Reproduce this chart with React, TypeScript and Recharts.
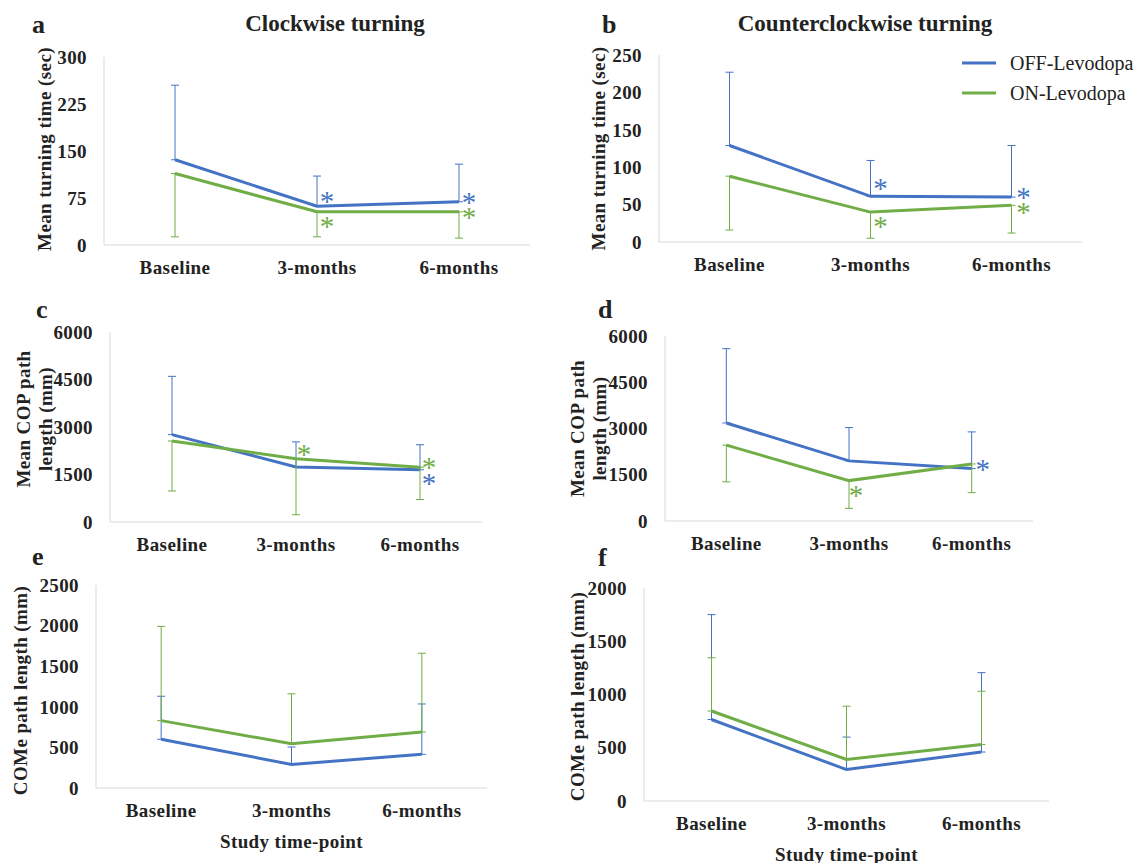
import React from 'react';
import { LineChart, Line, XAxis, YAxis, ErrorBar, LabelList, Legend } from 'recharts';

const timePoints = ['Baseline', '3-months', '6-months'];

// a - clockwise turning time (sec)
const cwTimeOff = [136, 62, 69];
const cwTimeOn = [114, 53, 53];
const cwTimeOffSd = [119, 48, 60];
const cwTimeOnSd = [101, 40, 42];
const cwTimeOffSig = [false, true, true];
const cwTimeOnSig = [false, true, true];
const cwTimeTicks = [0, 75, 150, 225, 300];

// b - counterclockwise turning time (sec)
const ccwTimeOff = [129, 61, 60];
const ccwTimeOn = [88, 40, 49];
const ccwTimeOffSd = [98, 48, 69];
const ccwTimeOnSd = [72, 35, 37];
const ccwTimeOffSig = [false, true, true];
const ccwTimeOnSig = [false, true, true];
const ccwTimeTicks = [0, 50, 100, 150, 200, 250];

// c - COP path length clockwise (mm)
const cwCopOff = [2760, 1740, 1650];
const cwCopOn = [2560, 2000, 1730];
const cwCopOffSd = [1840, 790, 790];
const cwCopOnSd = [1580, 1770, 1020];
const cwCopOffSig = [false, false, true];
const cwCopOnSig = [false, true, true];

// d - COP path length counterclockwise (mm)
const ccwCopOff = [3180, 1950, 1700];
const ccwCopOn = [2460, 1310, 1850];
const ccwCopOffSd = [2410, 1080, 1190];
const ccwCopOnSd = [1190, 900, 930];
const ccwCopOffSig = [false, false, true];
const ccwCopOnSig = [false, true, false];
const copTicks = [0, 1500, 3000, 4500, 6000];

// e - COMe path length clockwise (mm)
const cwComOff = [600, 290, 415];
const cwComOn = [830, 545, 690];
const cwComOffSd = [530, 215, 620];
const cwComOnSd = [1160, 615, 970];
const cwComTicks = [0, 500, 1000, 1500, 2000, 2500];

// f - COMe path length counterclockwise (mm)
const ccwComOff = [765, 295, 460];
const ccwComOn = [845, 390, 530];
const ccwComOffSd = [985, 305, 745];
const ccwComOnSd = [500, 500, 500];
const ccwComTicks = [0, 500, 1000, 1500, 2000];

const noSig = [false, false, false];

const BLUE = '#4472C4';
const GREEN = '#70AD47';
const AXIS = '#d9d9d9';
const INK = '#222';
const SERIF = '"Liberation Serif", "Times New Roman", serif';

function buildRows(off, on, offSd, onSd, offDir, onDir, offSig, onSig) {
  return timePoints.map((t, i) => ({
    point: t,
    off: off[i],
    on: on[i],
    offErr: offDir === 'up' ? [0, offSd[i]] : [offSd[i], 0],
    onErr: onDir === 'up' ? [0, onSd[i]] : [onSd[i], 0],
    offSig: offSig[i] ? '*' : '',
    onSig: onSig[i] ? '*' : '',
  }));
}

function starMark(color: string, dx: number[], dy: number[]) {
  return (props: any) => {
    const { x, y, value, index } = props;
    if (!value) return null;
    const i = index ?? 0;
    return (
      <text
        x={x + dx[i]}
        y={y + dy[i] + 4}
        textAnchor="middle"
        dominantBaseline="central"
        fontSize={29}
        fontFamily={SERIF}
        fill={color}
      >
        {value}
      </text>
    );
  };
}

function yTitle(lines: string[], offsetX: number, shiftY: number) {
  return (props: any) => {
    const vb = props.viewBox;
    const x0 = vb.x + offsetX;
    const cy = vb.y + vb.height / 2 + shiftY;
    return (
      <text
        x={x0}
        y={cy}
        transform={`rotate(-90, ${x0}, ${cy})`}
        textAnchor="middle"
        dominantBaseline="central"
        fontFamily={SERIF}
        fontWeight={700}
        fontSize={19}
        letterSpacing={0.4}
        fill={INK}
      >
        {lines.map((l, i) => (
          <tspan key={i} x={x0} dy={i === 0 ? -((lines.length - 1) * 22) / 2 : 22}>
            {l}
          </tspan>
        ))}
      </text>
    );
  };
}

function xTitle(text: string) {
  return (props: any) => {
    const vb = props.viewBox;
    return (
      <text
        x={vb.x + vb.width / 2}
        y={vb.y + 53}
        textAnchor="middle"
        dominantBaseline="central"
        fontFamily={SERIF}
        fontWeight={700}
        fontSize={19}
        letterSpacing={0.4}
        fill={INK}
      >
        {text}
      </text>
    );
  };
}

const legendContent = (props: any) => (
  <div style={{ fontFamily: SERIF, fontSize: 20, color: INK, whiteSpace: 'nowrap' }}>
    {(props.payload || []).map((p: any) => (
      <div key={p.value} style={{ display: 'flex', alignItems: 'center', height: 30 }}>
        <svg width={34} height={4} style={{ display: 'block' }}>
          <line x1={0} y1={2} x2={34} y2={2} stroke={p.color} strokeWidth={3} />
        </svg>
        <span style={{ marginLeft: 14, lineHeight: '20px' }}>{p.value}</span>
      </div>
    ))}
  </div>
);

const panels = [
  {
    key: 'a', col: 0, px: 104, py: 57, pw: 426, ph: 188,
    rows: buildRows(cwTimeOff, cwTimeOn, cwTimeOffSd, cwTimeOnSd, 'up', 'down', cwTimeOffSig, cwTimeOnSig),
    ticks: cwTimeTicks, yLines: ['Mean turning  time (sec)'], yLabelX: 44, yShift: -2,
    offStar: { dx: [0, 10, 10], dy: [0, -9, -4] }, onStar: { dx: [0, 10, 10], dy: [0, 10, 1] },
  },
  {
    key: 'b', col: 555, px: 659, py: 55, pw: 423, ph: 187, legend: true,
    rows: buildRows(ccwTimeOff, ccwTimeOn, ccwTimeOffSd, ccwTimeOnSd, 'up', 'down', ccwTimeOffSig, ccwTimeOnSig),
    ticks: ccwTimeTicks, yLines: ['Mean turning  time (sec)'], yLabelX: 598, yShift: 0,
    offStar: { dx: [0, 10, 12], dy: [0, -12, -4] }, onStar: { dx: [0, 10, 12], dy: [0, 10, 3] },
  },
  {
    key: 'c', col: 0, px: 110, py: 332, pw: 372, ph: 190,
    rows: buildRows(cwCopOff, cwCopOn, cwCopOffSd, cwCopOnSd, 'up', 'down', cwCopOffSig, cwCopOnSig),
    ticks: copTicks, yLines: ['Mean COP path', 'length (mm)'], yLabelX: 34, yShift: -8,
    offStar: { dx: [0, 0, 9], dy: [0, 0, 9] }, onStar: { dx: [0, 8, 9], dy: [0, -9, -4] },
  },
  {
    key: 'd', col: 555, px: 665, py: 336, pw: 368, ph: 185,
    rows: buildRows(ccwCopOff, ccwCopOn, ccwCopOffSd, ccwCopOnSd, 'up', 'down', ccwCopOffSig, ccwCopOnSig),
    ticks: copTicks, yLines: ['Mean COP path', 'length (mm)'], yLabelX: 588, yShift: 0,
    offStar: { dx: [0, 0, 11], dy: [0, 0, -4] }, onStar: { dx: [0, 7, 0], dy: [0, 10, 0] },
  },
  {
    key: 'e', col: 0, px: 96, py: 585, pw: 391, ph: 203, xLabel: 'Study time-point',
    rows: buildRows(cwComOff, cwComOn, cwComOffSd, cwComOnSd, 'up', 'up', noSig, noSig),
    ticks: cwComTicks, yLines: ['COMe path length (mm)'], yLabelX: 20, yShift: 4,
    offStar: { dx: [0, 0, 0], dy: [0, 0, 0] }, onStar: { dx: [0, 0, 0], dy: [0, 0, 0] },
  },
  {
    key: 'f', col: 555, px: 644, py: 588, pw: 405, ph: 213, xLabel: 'Study time-point',
    rows: buildRows(ccwComOff, ccwComOn, ccwComOffSd, ccwComOnSd, 'up', 'up', noSig, noSig),
    ticks: ccwComTicks, yLines: ['COMe path length (mm)'], yLabelX: 577, yShift: 2,
    offStar: { dx: [0, 0, 0], dy: [0, 0, 0] }, onStar: { dx: [0, 0, 0], dy: [0, 0, 0] },
  },
];

const tickStyle = { fontSize: 19, fontWeight: 700, fill: INK, fontFamily: SERIF, letterSpacing: 0.4 };

function Panel({ p }: { p: any }) {
  const top = p.py - 20;
  const yw = p.px - p.col;
  const xh = p.xLabel ? 70 : 40;
  const width = yw + p.pw + 14;
  const height = 20 + p.ph + xh;
  const max = p.ticks[p.ticks.length - 1];
  return (
    <div style={{ position: 'absolute', left: p.col, top }}>
      <LineChart width={width} height={height} data={p.rows} margin={{ top: 20, right: 14, bottom: 0, left: 0 }}>
        <XAxis
          dataKey="point"
          height={xh}
          padding={{ left: p.pw / 6, right: p.pw / 6 }}
          axisLine={{ stroke: AXIS, strokeWidth: 1 }}
          tickLine={false}
          tickMargin={10}
          interval={0}
          tick={tickStyle}
          label={p.xLabel ? { content: xTitle(p.xLabel) } : undefined}
        />
        <YAxis
          width={yw}
          domain={[0, max]}
          ticks={p.ticks}
          interval={0}
          axisLine={{ stroke: AXIS, strokeWidth: 1 }}
          tickLine={false}
          tickMargin={11}
          tick={tickStyle}
          label={{ content: yTitle(p.yLines, p.yLabelX - p.col, p.yShift) }}
        />
        <Line
          dataKey="off"
          name="OFF-Levodopa"
          type="linear"
          stroke={BLUE}
          strokeWidth={3}
          dot={false}
          activeDot={false}
          isAnimationActive={false}
        >
          <ErrorBar dataKey="offErr" direction="y" width={4} strokeWidth={1} stroke={BLUE} isAnimationActive={false} />
          <LabelList dataKey="offSig" content={starMark(BLUE, p.offStar.dx, p.offStar.dy)} />
        </Line>
        <Line
          dataKey="on"
          name="ON-Levodopa"
          type="linear"
          stroke={GREEN}
          strokeWidth={3}
          dot={false}
          activeDot={false}
          isAnimationActive={false}
        >
          <ErrorBar dataKey="onErr" direction="y" width={4} strokeWidth={1} stroke={GREEN} isAnimationActive={false} />
          <LabelList dataKey="onSig" content={starMark(GREEN, p.onStar.dx, p.onStar.dy)} />
        </Line>
        {p.legend ? (
          <Legend
            layout="vertical"
            align="center"
            verticalAlign="middle"
            content={legendContent}
            wrapperStyle={{ top: 13, left: 962 - p.col, width: 180 }}
          />
        ) : null}
      </LineChart>
    </div>
  );
}

export default function App() {
  return (
    <div style={{ position: 'absolute', left: 0, top: 0, width: 1140, height: 863, background: '#fff' }}>
      {panels.map((p) => (
        <Panel key={p.key} p={p} />
      ))}
      <svg
        width={1140}
        height={863}
        style={{ position: 'absolute', left: 0, top: 0, pointerEvents: 'none' }}
      >
        <g fontFamily={SERIF} fontWeight={700} fill={INK}>
          <text x={335} y={31} textAnchor="middle" fontSize={23}>Clockwise turning</text>
          <text x={865} y={31} textAnchor="middle" fontSize={23}>Counterclockwise turning</text>
          <text x={32} y={33} fontSize={26}>a</text>
          <text x={602} y={33} fontSize={26}>b</text>
          <text x={36} y={318} fontSize={26}>c</text>
          <text x={598} y={318} fontSize={26}>d</text>
          <text x={32} y={565} fontSize={26}>e</text>
          <text x={598} y={566} fontSize={26}>f</text>
        </g>
      </svg>
    </div>
  );
}
